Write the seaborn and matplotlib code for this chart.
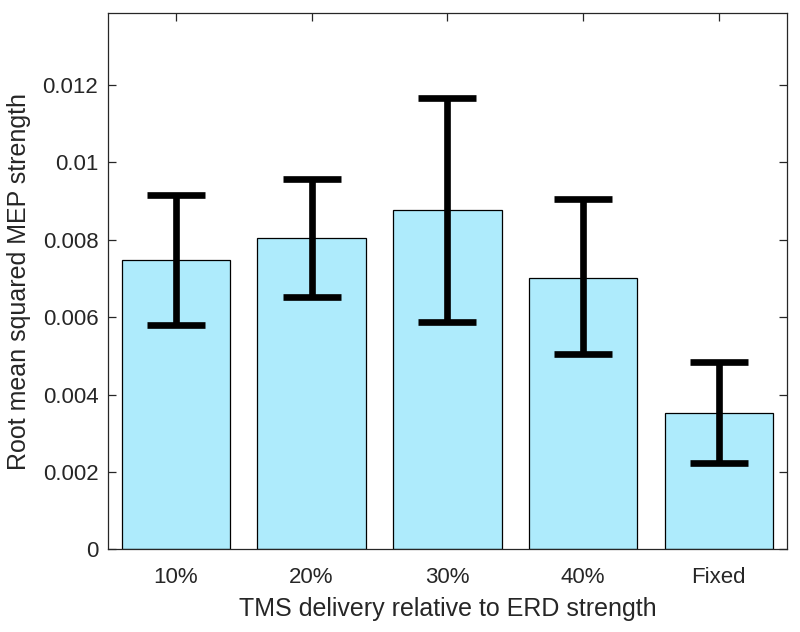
import matplotlib
matplotlib.use("Agg")
import matplotlib.pyplot as plt
import seaborn as sns
import pandas as pd

categories = ["10%", "20%", "30%", "40%", "Fixed"]
means = [0.00748, 0.00805, 0.00878, 0.00702, 0.00352]
err_low = [0.00580, 0.00652, 0.00588, 0.00505, 0.00223]
err_high = [0.00916, 0.00958, 0.01167, 0.00906, 0.00484]
yticks = [0, 0.002, 0.004, 0.006, 0.008, 0.010, 0.012]
ytick_labels = ["0", "0.002", "0.004", "0.006", "0.008", "0.01", "0.012"]

sns.set_style("white")
plt.rcParams["font.family"] = ["Liberation Sans", "DejaVu Sans"]
txt = "#262626"

df = pd.DataFrame({"cat": categories, "val": means})

fig = plt.figure(figsize=(8, 6.32), dpi=100)
ax = fig.add_axes([0.135, 0.1309, 0.8484, 0.8485])

sns.barplot(data=df, x="cat", y="val", color="#AEEBFC", saturation=1,
            edgecolor="black", linewidth=0.9, width=0.8, errorbar=None, ax=ax)

xs = list(range(len(categories)))
lower = [m - lo for m, lo in zip(means, err_low)]
upper = [hi - m for m, hi in zip(means, err_high)]
ax.errorbar(xs, means, yerr=[lower, upper], fmt="none", ecolor="black",
            elinewidth=4.8, capsize=21, capthick=4.8, zorder=5)

ax.set_xlim(-0.5, 4.5)
ax.set_ylim(0, 0.01386)
ax.set_yticks(yticks)
ax.set_yticklabels(ytick_labels)
ax.set_xticks(xs)
ax.set_xticklabels(categories)

for s in ax.spines.values():
    s.set_visible(True)
    s.set_color(txt)
    s.set_linewidth(0.9)

ax.tick_params(axis="y", direction="in", length=6, width=0.9, color=txt,
               labelsize=16, labelcolor=txt, left=True, right=True, pad=7)
ax.tick_params(axis="x", direction="in", length=6, width=0.9, color=txt,
               labelsize=16, labelcolor=txt, top=True, bottom=False, pad=13)

ax.set_xlabel("TMS delivery relative to ERD strength", fontsize=18, color=txt, labelpad=6)
ax.set_ylabel("Root mean squared MEP strength", fontsize=18, color=txt, labelpad=8)

fig.savefig("out.png", dpi=100)
